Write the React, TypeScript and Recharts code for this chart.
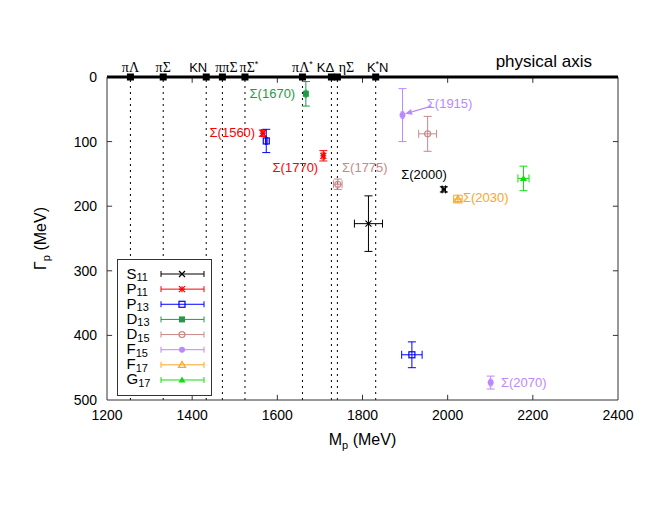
import React from 'react';
import {
  ComposedChart, Scatter, XAxis, YAxis, ErrorBar, ReferenceLine, ReferenceDot, Legend, Label,
} from 'recharts';

// ---------- data ----------
const xTicks = [1200, 1400, 1600, 1800, 2000, 2200, 2400];
const yTicks = [0, 100, 200, 300, 400, 500];
const innerXTicks = [1400, 1600, 1800, 2000, 2200];
const innerYTicks = [100, 200, 300, 400];

const thresholdNames = ['πΛ', 'πΣ', 'KN', 'ππΣ', 'πΣ*', 'πΛ*', 'KΔ', 'ηΣ', 'K*N'];
const thresholdMasses = [1255, 1332, 1433, 1471, 1524, 1659, 1727, 1741, 1831];

const waveNames = ['S11', 'P11', 'P13', 'D13', 'D15', 'F15', 'F17', 'G17'];

const S11 = [
  { M: 1814, G: 227, eM: 33, eG: 43 },
  { M: 1991, G: 174, eM: 4, eG: 4 },
];
const P11 = [
  { M: 1566, G: 87, eM: 3, eG: 5 },
  { M: 1708, G: 122, eM: 3, eG: 8 },
];
const P13 = [
  { M: 1574, G: 99, eM: 2, eG: 18 },
  { M: 1916, G: 430, eM: 24, eG: 20 },
];
const D13 = [{ M: 1667, G: 26, eM: 2, eG: 19 }];
const D15 = [
  { M: 1742, G: 166, eM: 10, eG: 8 },
  { M: 1953, G: 88, eM: 21, eG: 27 },
];
const F15 = [
  { M: 1894, G: 59, eM: 3, eG: 41 },
  { M: 2101, G: 473, eM: 3, eG: 10 },
];
const F17 = [{ M: 2024, G: 189, eM: 10, eG: 6 }];
const G17 = [{ M: 2178, G: 157, eM: 13, eG: 19 }];

const seriesData = [S11, P11, P13, D13, D15, F15, F17, G17];

const annotationTexts = ['Σ(1670)', 'Σ(1560)', 'Σ(1770)', 'Σ(1775)', 'Σ(1915)', 'Σ(2000)', 'Σ(2030)', 'Σ(2070)'];
const annotationM = [1642, 1548, 1696, 1752, 1951, 1891, 2036, 2125];
const annotationG = [26, 85, 140, 140, 41, 151, 186, 473];
const annotationWave = ['D13', 'P11', 'P11', 'D15', 'F15', 'S11', 'F17', 'F15'];

const arrowFrom = { x: 1962, y: 45 };
const arrowTo = { x: 1900, y: 57 };

// ---------- styles ----------
const SANS = 'Liberation Sans, Arial, Helvetica, sans-serif';
const SERIF = 'Liberation Serif, Times New Roman, serif';
const waveColors: Record<string, string> = {
  S11: '#000000', P11: '#ff0000', P13: '#0000ff', D13: '#1f9a45',
  D15: '#c98888', F15: '#bb88ff', F17: '#ffa520', G17: '#11dd11',
};
const waveSymbols: Record<string, string> = {
  S11: 'cross', P11: 'star', P13: 'osquare', D13: 'square',
  D15: 'ocircle', F15: 'circle', F17: 'otriangle', G17: 'triangle',
};
const annotationAnchor = ['end', 'end', 'end', 'start', 'start', 'start', 'start', 'start'];
const thresholdDx = [0, 0, -8, 4, 4, 0, -6, 9, 2];

const drawSymbol = (kind: string, color: string, cx: number, cy: number, s = 3) => {
  switch (kind) {
    case 'cross':
      return (
        <g stroke={color} strokeWidth={1.2}>
          <line x1={cx - s} y1={cy - s} x2={cx + s} y2={cy + s} />
          <line x1={cx - s} y1={cy + s} x2={cx + s} y2={cy - s} />
        </g>
      );
    case 'star':
      return (
        <g stroke={color} strokeWidth={1.2}>
          <line x1={cx - s} y1={cy - s} x2={cx + s} y2={cy + s} />
          <line x1={cx - s} y1={cy + s} x2={cx + s} y2={cy - s} />
          <line x1={cx - s} y1={cy} x2={cx + s} y2={cy} />
          <line x1={cx} y1={cy - s} x2={cx} y2={cy + s} />
        </g>
      );
    case 'osquare':
      return <rect x={cx - s} y={cy - s} width={2 * s} height={2 * s} fill="none" stroke={color} strokeWidth={1.2} />;
    case 'square':
      return <rect x={cx - s} y={cy - s} width={2 * s} height={2 * s} fill={color} />;
    case 'ocircle':
      return <circle cx={cx} cy={cy} r={s} fill="none" stroke={color} strokeWidth={1.2} />;
    case 'circle':
      return <circle cx={cx} cy={cy} r={s} fill={color} />;
    case 'otriangle':
      return (
        <polygon points={`${cx},${cy - s - 0.5} ${cx - s - 0.5},${cy + s - 0.5} ${cx + s + 0.5},${cy + s - 0.5}`}
          fill="none" stroke={color} strokeWidth={1.2} />
      );
    case 'triangle':
      return (
        <polygon points={`${cx},${cy - s - 0.5} ${cx - s - 0.5},${cy + s - 0.5} ${cx + s + 0.5},${cy + s - 0.5}`}
          fill={color} />
      );
    default:
      return null;
  }
};

const makeShape = (wave: string) => (p: any) => {
  if (p == null || p.cx == null) return <g />;
  return drawSymbol(waveSymbols[wave], waveColors[wave], p.cx, p.cy);
};

const annotations = annotationTexts.map((t, i) => ({
  M: annotationM[i], G: annotationG[i], text: t, wave: annotationWave[i], anchor: annotationAnchor[i],
}));

const AnnotationShape = (p: any) => {
  if (p == null || p.cx == null) return <g />;
  const d = p.payload;
  return (
    <text x={p.cx} y={p.cy} dy="0.36em" textAnchor={d.anchor} fill={waveColors[d.wave]}
      fontSize={13} fontFamily={SANS}>{d.text}</text>
  );
};

const renderName = (name: string) => {
  const out: any[] = [];
  let pendingDy = 0;
  let k = 0;
  for (const ch of name) {
    if (ch === '*') {
      out.push(<tspan key={k++} dy={-5} fontSize={9} fontFamily={SANS}>*</tspan>);
      pendingDy = 5;
    } else {
      const serif = 'πΛΣη'.includes(ch);
      out.push(
        <tspan key={k++} dy={pendingDy || undefined} fontFamily={serif ? SERIF : SANS}
          fontSize={serif ? 14 : 13}>{ch}</tspan>,
      );
      pendingDy = 0;
    }
  }
  return out;
};

const thresholdShape = (i: number) => (p: any) => {
  if (p == null || p.cx == null) return <g />;
  const { cx, cy } = p;
  return (
    <g>
      <rect x={cx - 3.5} y={cy - 3.5} width={7} height={7} fill="#000" />
      <text x={cx + thresholdDx[i]} y={cy - 5} textAnchor="middle" fill="#000">
        {renderName(thresholdNames[i])}
      </text>
    </g>
  );
};

const ArrowShape = (p: any) => {
  const { x1, y1, x2, y2 } = p;
  if (x1 == null) return <g />;
  const ang = Math.atan2(y2 - y1, x2 - x1);
  const L = 7, W = 3;
  const bx = x2 - L * Math.cos(ang), by = y2 - L * Math.sin(ang);
  const px = -Math.sin(ang) * W, py = Math.cos(ang) * W;
  const c = waveColors.F15;
  return (
    <g>
      <line x1={x1} y1={y1} x2={bx} y2={by} stroke={c} strokeWidth={1.2} />
      <polygon points={`${x2},${y2} ${bx + px},${by + py} ${bx - px},${by - py}`} fill={c} />
    </g>
  );
};

const LegendBox = () => (
  <svg width={95} height={137} style={{ display: 'block' }}>
    <rect x={0.5} y={0.5} width={94} height={136} fill="#fff" stroke="#333" />
    {waveNames.map((w, i) => {
      const y = 15 + i * 15.14;
      const c = waveColors[w];
      return (
        <g key={w}>
          <text x={9.5} y={y + 4.5} fontFamily={SANS} fill="#000">
            <tspan fontSize={15}>{w[0]}</tspan>
            <tspan fontSize={11} dy={2.5}>{w.slice(1)}</tspan>
          </text>
          <g stroke={c} strokeWidth={1}>
            <line x1={44} y1={y} x2={87} y2={y} />
            <line x1={44} y1={y - 3} x2={44} y2={y + 3} />
            <line x1={87} y1={y - 3} x2={87} y2={y + 3} />
          </g>
          {drawSymbol(waveSymbols[w], c, 65, y)}
        </g>
      );
    })}
  </svg>
);

const XLabel = (props: any) => {
  const vb = props.viewBox || {};
  return (
    <text x={vb.x + vb.width / 2} y={vb.y + 45} textAnchor="middle" fontFamily={SANS} fill="#000">
      <tspan fontSize={16}>M</tspan>
      <tspan fontSize={11} dy={4}>p</tspan>
      <tspan fontSize={16} dy={-4}> (MeV)</tspan>
    </text>
  );
};

const YLabel = (props: any) => {
  const vb = props.viewBox || {};
  const x = vb.x - 1;
  const y = vb.y + vb.height / 2;
  return (
    <text x={x} y={y} transform={`rotate(-90, ${x}, ${y})`} textAnchor="middle" fontFamily={SANS} fill="#000">
      <tspan fontSize={16}>Γ</tspan>
      <tspan fontSize={11} dy={4}>p</tspan>
      <tspan fontSize={16} dy={-4}> (MeV)</tspan>
    </text>
  );
};

const PhysLabel = (props: any) => {
  const vb = props.viewBox || {};
  return (
    <text x={vb.x + vb.width - 26} y={vb.y - 10} textAnchor="end" fontFamily={SANS} fontSize={17} fill="#000">
      physical axis
    </text>
  );
};

export default function App() {
  return (
    <div style={{ position: 'absolute', left: 0, top: 0, width: 664, height: 513, background: '#fff' }}>
      <ComposedChart width={664} height={513} margin={{ top: 77, right: 46, bottom: 73, left: 47 }}>
        <XAxis type="number" dataKey="M" domain={[1200, 2400]} ticks={xTicks} allowDataOverflow
          tickLine={false} tickSize={0} tickMargin={10} height={40} axisLine={{ stroke: '#333' }}
          tick={{ fontSize: 14, fill: '#000', fontFamily: SANS }}>
          <Label content={XLabel} />
        </XAxis>
        <YAxis type="number" dataKey="G" domain={[0, 500]} reversed ticks={yTicks} allowDataOverflow
          width={60} tickLine={false} tickSize={0} tickMargin={10} axisLine={{ stroke: '#333' }}
          tick={{ fontSize: 14, fill: '#000', fontFamily: SANS }}>
          <Label content={YLabel} />
        </YAxis>

        {thresholdMasses.map((m) => (
          <ReferenceLine key={`d${m}`} x={m} stroke="#000" strokeWidth={1} strokeDasharray="2 4" />
        ))}

        <ReferenceLine x={2400} stroke="#333" strokeWidth={1} />
        {innerXTicks.map((t) => (
          <ReferenceLine key={`bt${t}`} segment={[{ x: t, y: 500 }, { x: t, y: 492 }]} stroke="#333" />
        ))}
        {innerXTicks.map((t) => (
          <ReferenceLine key={`tt${t}`} segment={[{ x: t, y: 0 }, { x: t, y: 9 }]} stroke="#333" />
        ))}
        {innerYTicks.map((t) => (
          <ReferenceLine key={`lt${t}`} segment={[{ x: 1200, y: t }, { x: 1212, y: t }]} stroke="#333" />
        ))}
        {innerYTicks.map((t) => (
          <ReferenceLine key={`rt${t}`} segment={[{ x: 2400, y: t }, { x: 2388, y: t }]} stroke="#333" />
        ))}
        <ReferenceLine y={0} stroke="#000" strokeWidth={3}>
          <Label content={PhysLabel} />
        </ReferenceLine>

        {thresholdMasses.map((m, i) => (
          <ReferenceDot key={`s${m}`} x={m} y={0} r={4} ifOverflow="visible" shape={thresholdShape(i)} />
        ))}

        <ReferenceLine segment={[arrowFrom, arrowTo]} shape={ArrowShape} ifOverflow="visible" />

        {waveNames.map((w, i) => (
          <Scatter key={w} name={w} data={seriesData[i]} fill={waveColors[w]} shape={makeShape(w)}
            isAnimationActive={false}>
            <ErrorBar dataKey="eM" direction="x" width={4} stroke={waveColors[w]} strokeWidth={1} />
            <ErrorBar dataKey="eG" direction="y" width={4} stroke={waveColors[w]} strokeWidth={1} />
          </Scatter>
        ))}

        <Scatter name="labels" data={annotations} shape={AnnotationShape} legendType="none"
          isAnimationActive={false} />

        <Legend layout="horizontal" verticalAlign="middle" align="center" content={LegendBox}
          wrapperStyle={{ left: 117, top: 259, width: 95, height: 137 }} />
      </ComposedChart>
    </div>
  );
}
